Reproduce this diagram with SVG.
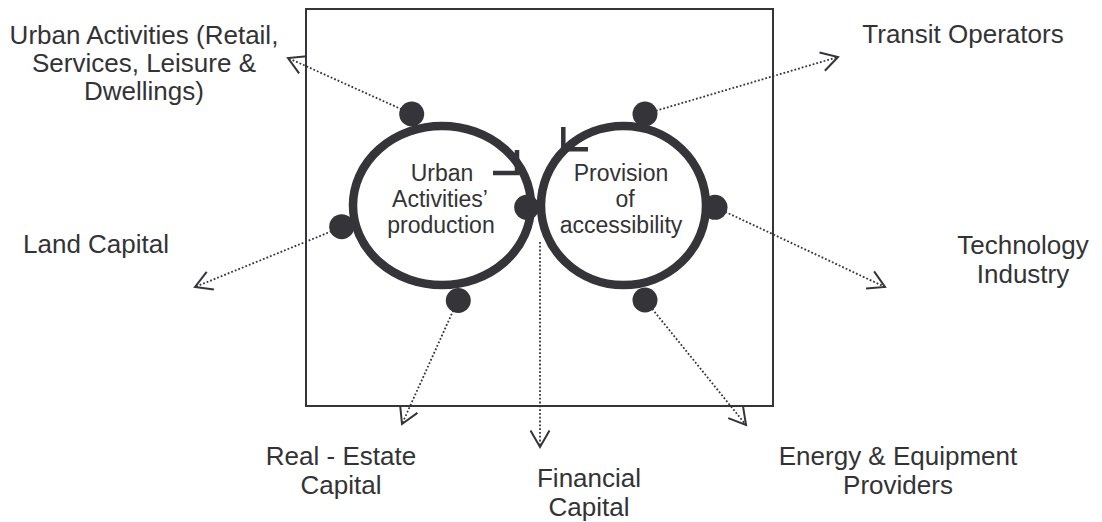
<svg xmlns="http://www.w3.org/2000/svg" width="1102" height="522" viewBox="0 0 1102 522">
<style>
.lbl{font-family:"Liberation Sans",Arial,sans-serif;font-size:26px;fill:#333336;text-anchor:middle}
.in{font-family:"Liberation Sans",Arial,sans-serif;font-size:23px;fill:#333336;text-anchor:middle}
.ring{fill:none;stroke:#353439;stroke-width:8.5}
.dot{fill:#353439}
.mark{fill:none;stroke:#353439;stroke-width:4.5}
.con{fill:none;stroke:#353439;stroke-width:1.8;stroke-dasharray:1.8 2;marker-end:url(#arr)}
.frame{fill:none;stroke:#353439;stroke-width:2}
</style>
<defs>
<marker id="arr" markerUnits="userSpaceOnUse" markerWidth="24" markerHeight="24" viewBox="-20 -12 24 24" refX="0" refY="0" orient="auto" overflow="visible">
<path d="M-16.5,-9.5 L0,0 L-16.5,9.5" fill="none" stroke="#353439" stroke-width="2" stroke-dasharray="none"/>
</marker>
</defs>
<rect width="1102" height="522" fill="#ffffff"/>
<g id="frame"><rect class="frame" x="306" y="9" width="467" height="397"/></g>
<g id="connectors">
<path class="con" d="M412,114 L288,58"/>
<path class="con" d="M645,114 L838,57"/>
<path class="con" d="M342,227 L195,287"/>
<path class="con" d="M458,300 L402,424"/>
<path class="con" d="M540,242 L540,447"/>
<path class="con" d="M715,207 L885,287"/>
<path class="con" d="M645,300 L746,425"/>
</g>
<g id="cycle-urban">
<ellipse class="ring" cx="442" cy="205.5" rx="89" ry="79.5"/>
<path class="mark" d="M517,150 L517,173 L493,173"/>
<circle class="dot" cx="411.7" cy="114" r="12.5"/>
<circle class="dot" cx="341.7" cy="226.7" r="12.5"/>
<circle class="dot" cx="458.3" cy="300.5" r="12.5"/>
<text class="in" x="442" y="181">Urban</text>
<text class="in" x="440" y="207">Activities’</text>
<text class="in" x="441" y="233">production</text>
</g>
<g id="cycle-accessibility">
<ellipse class="ring" cx="623.5" cy="205.5" rx="82.5" ry="79.5"/>
<path class="mark" d="M563.3,127 L563.3,149.3 L588,149.3"/>
<circle class="dot" cx="645" cy="114" r="12.5"/>
<circle class="dot" cx="715" cy="207.3" r="12.5"/>
<circle class="dot" cx="645" cy="300" r="12.5"/>
<text class="in" x="621" y="181">Provision</text>
<text class="in" x="625" y="207">of</text>
<text class="in" x="621" y="233">accessibility</text>
</g>
<g id="junction"><circle class="dot" cx="526.7" cy="207.3" r="12.5"/></g>
<g id="urban-activities"><text class="lbl" x="144" y="44">Urban Activities (Retail,</text><text class="lbl" x="144" y="72">Services, Leisure &amp;</text><text class="lbl" x="144" y="100">Dwellings)</text></g>
<g id="transit-operators"><text class="lbl" x="963" y="43">Transit Operators</text></g>
<g id="land-capital"><text class="lbl" x="96" y="253">Land Capital</text></g>
<g id="technology-industry"><text class="lbl" x="1023" y="254">Technology</text><text class="lbl" x="1023" y="283">Industry</text></g>
<g id="real-estate-capital"><text class="lbl" x="341" y="465">Real - Estate</text><text class="lbl" x="341" y="494">Capital</text></g>
<g id="financial-capital"><text class="lbl" x="589" y="487">Financial</text><text class="lbl" x="589" y="516">Capital</text></g>
<g id="energy-equipment"><text class="lbl" x="898" y="465">Energy &amp; Equipment</text><text class="lbl" x="898" y="494">Providers</text></g>
</svg>
